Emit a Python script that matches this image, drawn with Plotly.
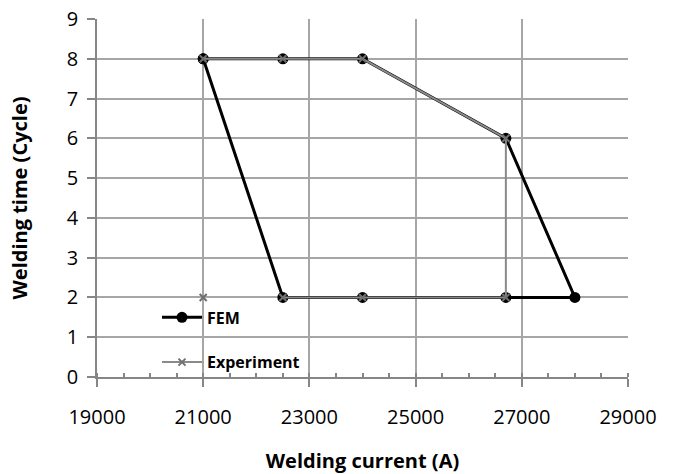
import plotly.graph_objects as go

# FEM boundary (welding lobe) points
fem_current = [21000, 22500, 24000, 26700, 28000, 26700, 24000, 22500, 21000]
fem_time = [8, 8, 8, 6, 2, 2, 2, 2, 8]

# Experiment points (None = gap in line)
exp_current = [21000, None, 21000, 22500, 24000, 26700, 26700, 24000, 22500]
exp_time = [2, None, 8, 8, 8, 6, 2, 2, 2]

x_ticks = [19000, 21000, 23000, 25000, 27000, 29000]
y_ticks = [0, 1, 2, 3, 4, 5, 6, 7, 8, 9]

font_family = "Open Sans, sans-serif"

fig = go.Figure()
fig.add_trace(go.Scatter(
    x=fem_current, y=fem_time, name="FEM", mode="lines+markers",
    line=dict(color="black", width=3),
    marker=dict(color="black", size=11, symbol="circle"),
    legendgroup="a",
))
fig.add_trace(go.Scatter(
    x=exp_current, y=exp_time, name="Experiment", mode="lines+markers",
    line=dict(color="#8a8a8a", width=2),
    marker=dict(color="#707070", size=7, symbol="x-thin", line=dict(color="#707070", width=2)),
    connectgaps=False,
    legendgroup="b",
))

fig.update_layout(
    width=675, height=474,
    margin=dict(l=97, r=47, t=19, b=97),
    plot_bgcolor="white", paper_bgcolor="white",
    font=dict(family=font_family, size=20, color="black"),
    showlegend=True,
    legend=dict(x=0.113, y=0.214, xanchor="left", yanchor="top",
                bgcolor="rgba(0,0,0,0)", font=dict(size=16, family=font_family, weight="bold"),
                traceorder="grouped", tracegroupgap=21, itemwidth=40),
    xaxis=dict(
        range=[19000, 29000], tickvals=x_ticks, ticktext=[str(v) for v in x_ticks],
        showgrid=True, gridcolor="#a6a6a6", gridwidth=1.5,
        showline=True, linecolor="#868686", linewidth=1.5,
        ticks="outside", ticklen=8, tickcolor="#868686", tickwidth=1.5,
        minor=dict(dtick=500, ticks="inside", ticklen=4, tickcolor="#868686", showgrid=False),
        zeroline=False, automargin=False, ticklabeloverflow="allow",
        ticklabelstandoff=13,
        title=dict(text="<b>Welding current (A)</b>", font=dict(size=20), standoff=26),
        tickfont=dict(size=20),
    ),
    yaxis=dict(
        range=[0, 9], tickvals=y_ticks, dtick=1,
        showgrid=True, gridcolor="#a6a6a6", gridwidth=1.5,
        showline=True, linecolor="#868686", linewidth=1.5,
        ticks="outside", ticklen=8, tickcolor="#868686", tickwidth=1.5,
        zeroline=False, automargin=False, ticklabeloverflow="allow",
        ticklabelstandoff=5,
        title=dict(text="<b>Welding time (Cycle)</b>", font=dict(size=20), standoff=34),
        tickfont=dict(size=20),
    ),
)

# remove the default 8px page margin so the figure sits at the window's corner
fig.write_html("out.html", config={"displayModeBar": False},
               post_script="document.body.style.margin='0';")
